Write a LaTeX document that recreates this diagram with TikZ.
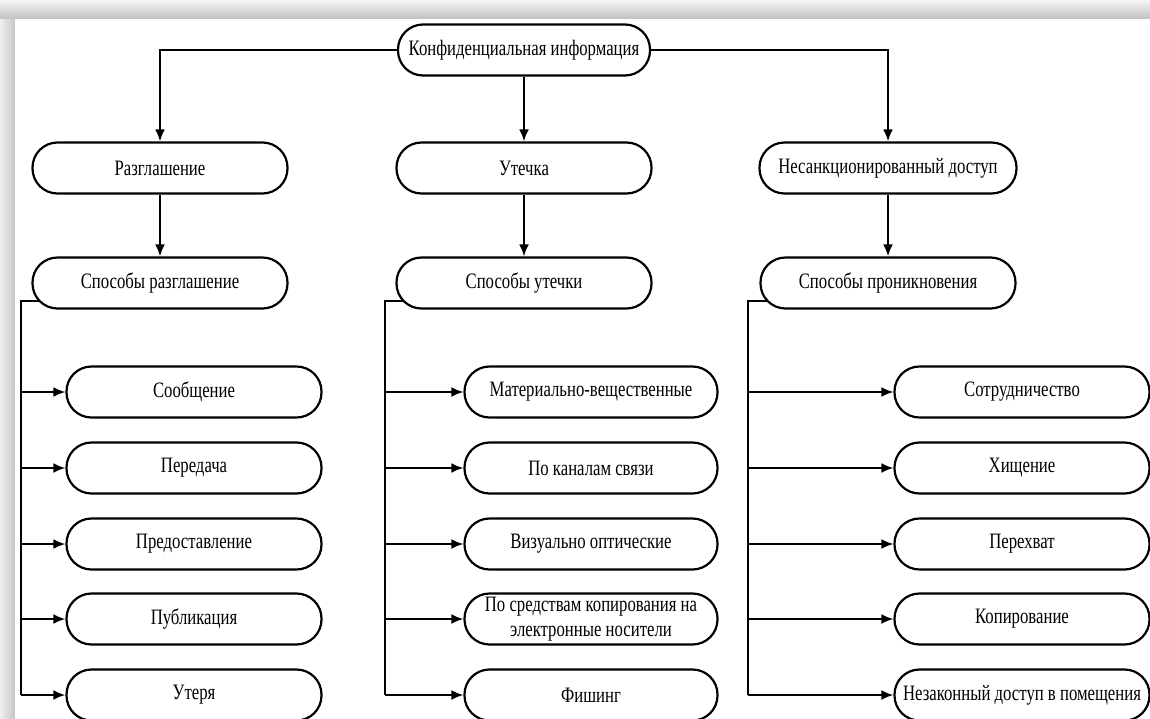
\documentclass[tikz,border=0pt]{standalone}
\usepackage{fontspec}
\setmainfont{Liberation Serif}[FakeStretch=0.76]
\usetikzlibrary{arrows.meta,backgrounds}

\tikzset{
    blk/.style={draw, line width=2.2pt, fill=white, rounded corners=25pt,
        minimum width=255pt, minimum height=51pt, inner sep=1pt, align=center,
        font=\fontsize{22}{25}\selectfont},
    arr/.style={line width=2.2pt, -{Latex[length=12pt,width=10pt]}},
    ln/.style={line width=2.2pt}
}

\begin{document}
\begin{tikzpicture}[x=1pt,y=-1pt]
    \useasboundingbox (0,0) rectangle (1150,718);

    %Ebene 0 und 1
    \node[blk, minimum width=252pt] (conf) at (524,50) {Конфиденциальная информация};
    \node[blk] (razgl) at (160,168) {Разглашение};
    \node[blk] (utech) at (524,168) {Утечка};
    \node[blk, minimum width=257pt] (nsd) at (888,168) {Несанкционированный доступ};

    %Ebene 2
    \node[blk] (sp1) at (160,283) {Способы разглашение};
    \node[blk] (sp2) at (524,283) {Способы утечки};
    \node[blk] (sp3) at (888,283) {Способы проникновения};

    %Spalte links
    \node[blk] (r1) at (194,392) {Сообщение};
    \node[blk] (r2) at (194,468) {Передача};
    \node[blk] (r3) at (194,544) {Предоставление};
    \node[blk] (r4) at (194,619) {Публикация};
    \node[blk] (r5) at (194,695) {Утеря};

    %Spalte Mitte
    \node[blk, minimum width=253pt] (u1) at (591,392) {Материально-вещественные};
    \node[blk, minimum width=253pt] (u2) at (591,468) {По каналам связи};
    \node[blk, minimum width=253pt] (u3) at (591,544) {Визуально оптические};
    \node[blk, minimum width=253pt] (u4) at (591,619) {По средствам копирования на\\электронные носители};
    \node[blk, minimum width=253pt] (u5) at (591,695) {Фишинг};

    %Spalte rechts
    \node[blk] (n1) at (1022,392) {Сотрудничество};
    \node[blk] (n2) at (1022,468) {Хищение};
    \node[blk] (n3) at (1022,544) {Перехват};
    \node[blk] (n4) at (1022,619) {Копирование};
    \node[blk] (n5) at (1022,695) {Незаконный доступ в помещения};

    \begin{scope}[on background layer]
        %Rahmen
        \fill[gray!12] (0,0) rectangle (1150,718);
        \shade[top color=gray!8, bottom color=gray!50] (0,0) rectangle (1150,19);
        \shade[left color=gray!12, right color=gray!45] (0,19) rectangle (15,718);
        \fill[white] (15,19) rectangle (1150,718);

        %Pfeile oben
        \draw[arr] (conf.west) -| (razgl.north);
        \draw[arr] (conf.south) -- (utech.north);
        \draw[arr] (conf.east) -| (nsd.north);
        \draw[arr] (razgl.south) -- (sp1.north);
        \draw[arr] (utech.south) -- (sp2.north);
        \draw[arr] (nsd.south) -- (sp3.north);

        %Stamm links
        \coordinate (t1) at (21,301);
        \draw[ln] (sp1.center |- t1) -- (t1) -- (t1 |- r5.west);
        \draw[arr] (t1 |- r1.west) -- (r1.west);
        \draw[arr] (t1 |- r2.west) -- (r2.west);
        \draw[arr] (t1 |- r3.west) -- (r3.west);
        \draw[arr] (t1 |- r4.west) -- (r4.west);
        \draw[arr] (t1 |- r5.west) -- (r5.west);

        %Stamm Mitte
        \coordinate (t2) at (385,301);
        \draw[ln] (sp2.center |- t2) -- (t2) -- (t2 |- u5.west);
        \draw[arr] (t2 |- u1.west) -- (u1.west);
        \draw[arr] (t2 |- u2.west) -- (u2.west);
        \draw[arr] (t2 |- u3.west) -- (u3.west);
        \draw[arr] (t2 |- u4.west) -- (u4.west);
        \draw[arr] (t2 |- u5.west) -- (u5.west);

        %Stamm rechts
        \coordinate (t3) at (748,301);
        \draw[ln] (sp3.center |- t3) -- (t3) -- (t3 |- n5.west);
        \draw[arr] (t3 |- n1.west) -- (n1.west);
        \draw[arr] (t3 |- n2.west) -- (n2.west);
        \draw[arr] (t3 |- n3.west) -- (n3.west);
        \draw[arr] (t3 |- n4.west) -- (n4.west);
        \draw[arr] (t3 |- n5.west) -- (n5.west);
    \end{scope}
\end{tikzpicture}
\end{document}
